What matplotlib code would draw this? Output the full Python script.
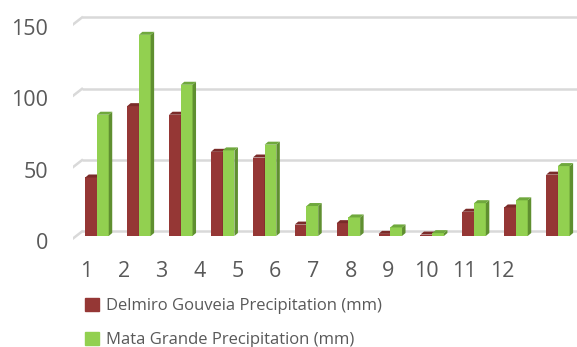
import numpy as np
import matplotlib.pyplot as plt
from matplotlib.patches import Polygon, Patch
from matplotlib.transforms import ScaledTranslation, blended_transform_factory

plt.rcParams['font.family'] = ['Open Sans', 'DejaVu Sans']

# monthly precipitation (mm)
months = np.arange(1, 13)
delmiro = [41, 91, 85, 59, 55, 8, 9, 1.5, 1, 17, 20, 43]
mata = [85, 141, 106, 60, 64, 21, 13, 6, 2, 23, 25, 49]
series_names = ['Delmiro Gouveia Precipitation (mm)', 'Mata Grande Precipitation (mm)']
yticks = [0, 50, 100, 150]

red, red_side, red_top = '#953735', '#6b2422', '#7a2b29'
green, green_side, green_top = '#92d050', '#5f8f30', '#6fa83d'
text_col = '#595959'

fig = plt.figure(figsize=(5.77, 3.47), dpi=100)
ax = fig.add_axes([0.1265, 0.3084, 0.8735, 0.6628])
ax.set_xlim(0.427, 12.456)
ax.set_ylim(-2.8, 158.4)

w = 0.28
# pixel -> data scales for 3d depth
px_x = (12.456 - 0.427) / 504.0
px_y = (158.4 + 2.8) / 230.0
dx, dy = 3.5 * px_x, 3 * px_y


def bars_3d(xs, vals, front, side, top):
    ax.bar(xs, vals, width=w, align='edge', color=front, zorder=3)
    for x, v in zip(xs, vals):
        ax.add_patch(Polygon([(x + w, 0), (x + w + dx, dy), (x + w + dx, v + dy), (x + w, v)],
                             closed=True, color=side, lw=0, zorder=3))
        ax.add_patch(Polygon([(x, v), (x + dx, v + dy), (x + w + dx, v + dy), (x + w, v)],
                             closed=True, color=top, lw=0, zorder=3))


bars_3d(months - w, delmiro, red, red_side, red_top)
bars_3d(months, mata, green, green_side, green_top)

# back wall gridlines with slanted floor edge
off = ScaledTranslation(0, 0.045, fig.dpi_scale_trans)
blend = blended_transform_factory(ax.transAxes, ax.transData)
x_back = 9 / 504.0
for t in yticks:
    ax.plot([x_back, 1], [t, t], color='#d9d9d9', lw=1.8, transform=blend + off,
            zorder=1, solid_capstyle='butt')
    ax.plot([0, x_back], [t - 2.5 * px_y, t + 4.5 * px_y], color='#d9d9d9', lw=1.8,
            transform=blend, zorder=1)

ax.set_yticks(yticks)
ax.set_yticklabels([str(t) for t in yticks])
# category labels sit on the perspective floor edge
ax.set_xticks(0.7375 + (months - 1) * 0.9026)
ax.set_xticklabels([str(m) for m in months])
ax.tick_params(length=0, labelsize=15.5, labelcolor=text_col)
ax.tick_params(axis='y', pad=18)
ax.tick_params(axis='x', pad=15)
for lab in ax.get_yticklabels():
    lab.set_transform(lab.get_transform() + ScaledTranslation(0, -0.05, fig.dpi_scale_trans))
for s in ax.spines.values():
    s.set_visible(False)

handles = [Patch(color=red), Patch(color=green)]
fig.legend(handles, series_names, loc='upper left', bbox_to_anchor=(0.147, 0.141),
           frameon=False, fontsize=12, labelcolor=text_col, handlelength=0.85,
           handleheight=0.85, handletextpad=0.4, labelspacing=1.05, borderaxespad=0,
           borderpad=0)

fig.savefig('out.png', dpi=100)
